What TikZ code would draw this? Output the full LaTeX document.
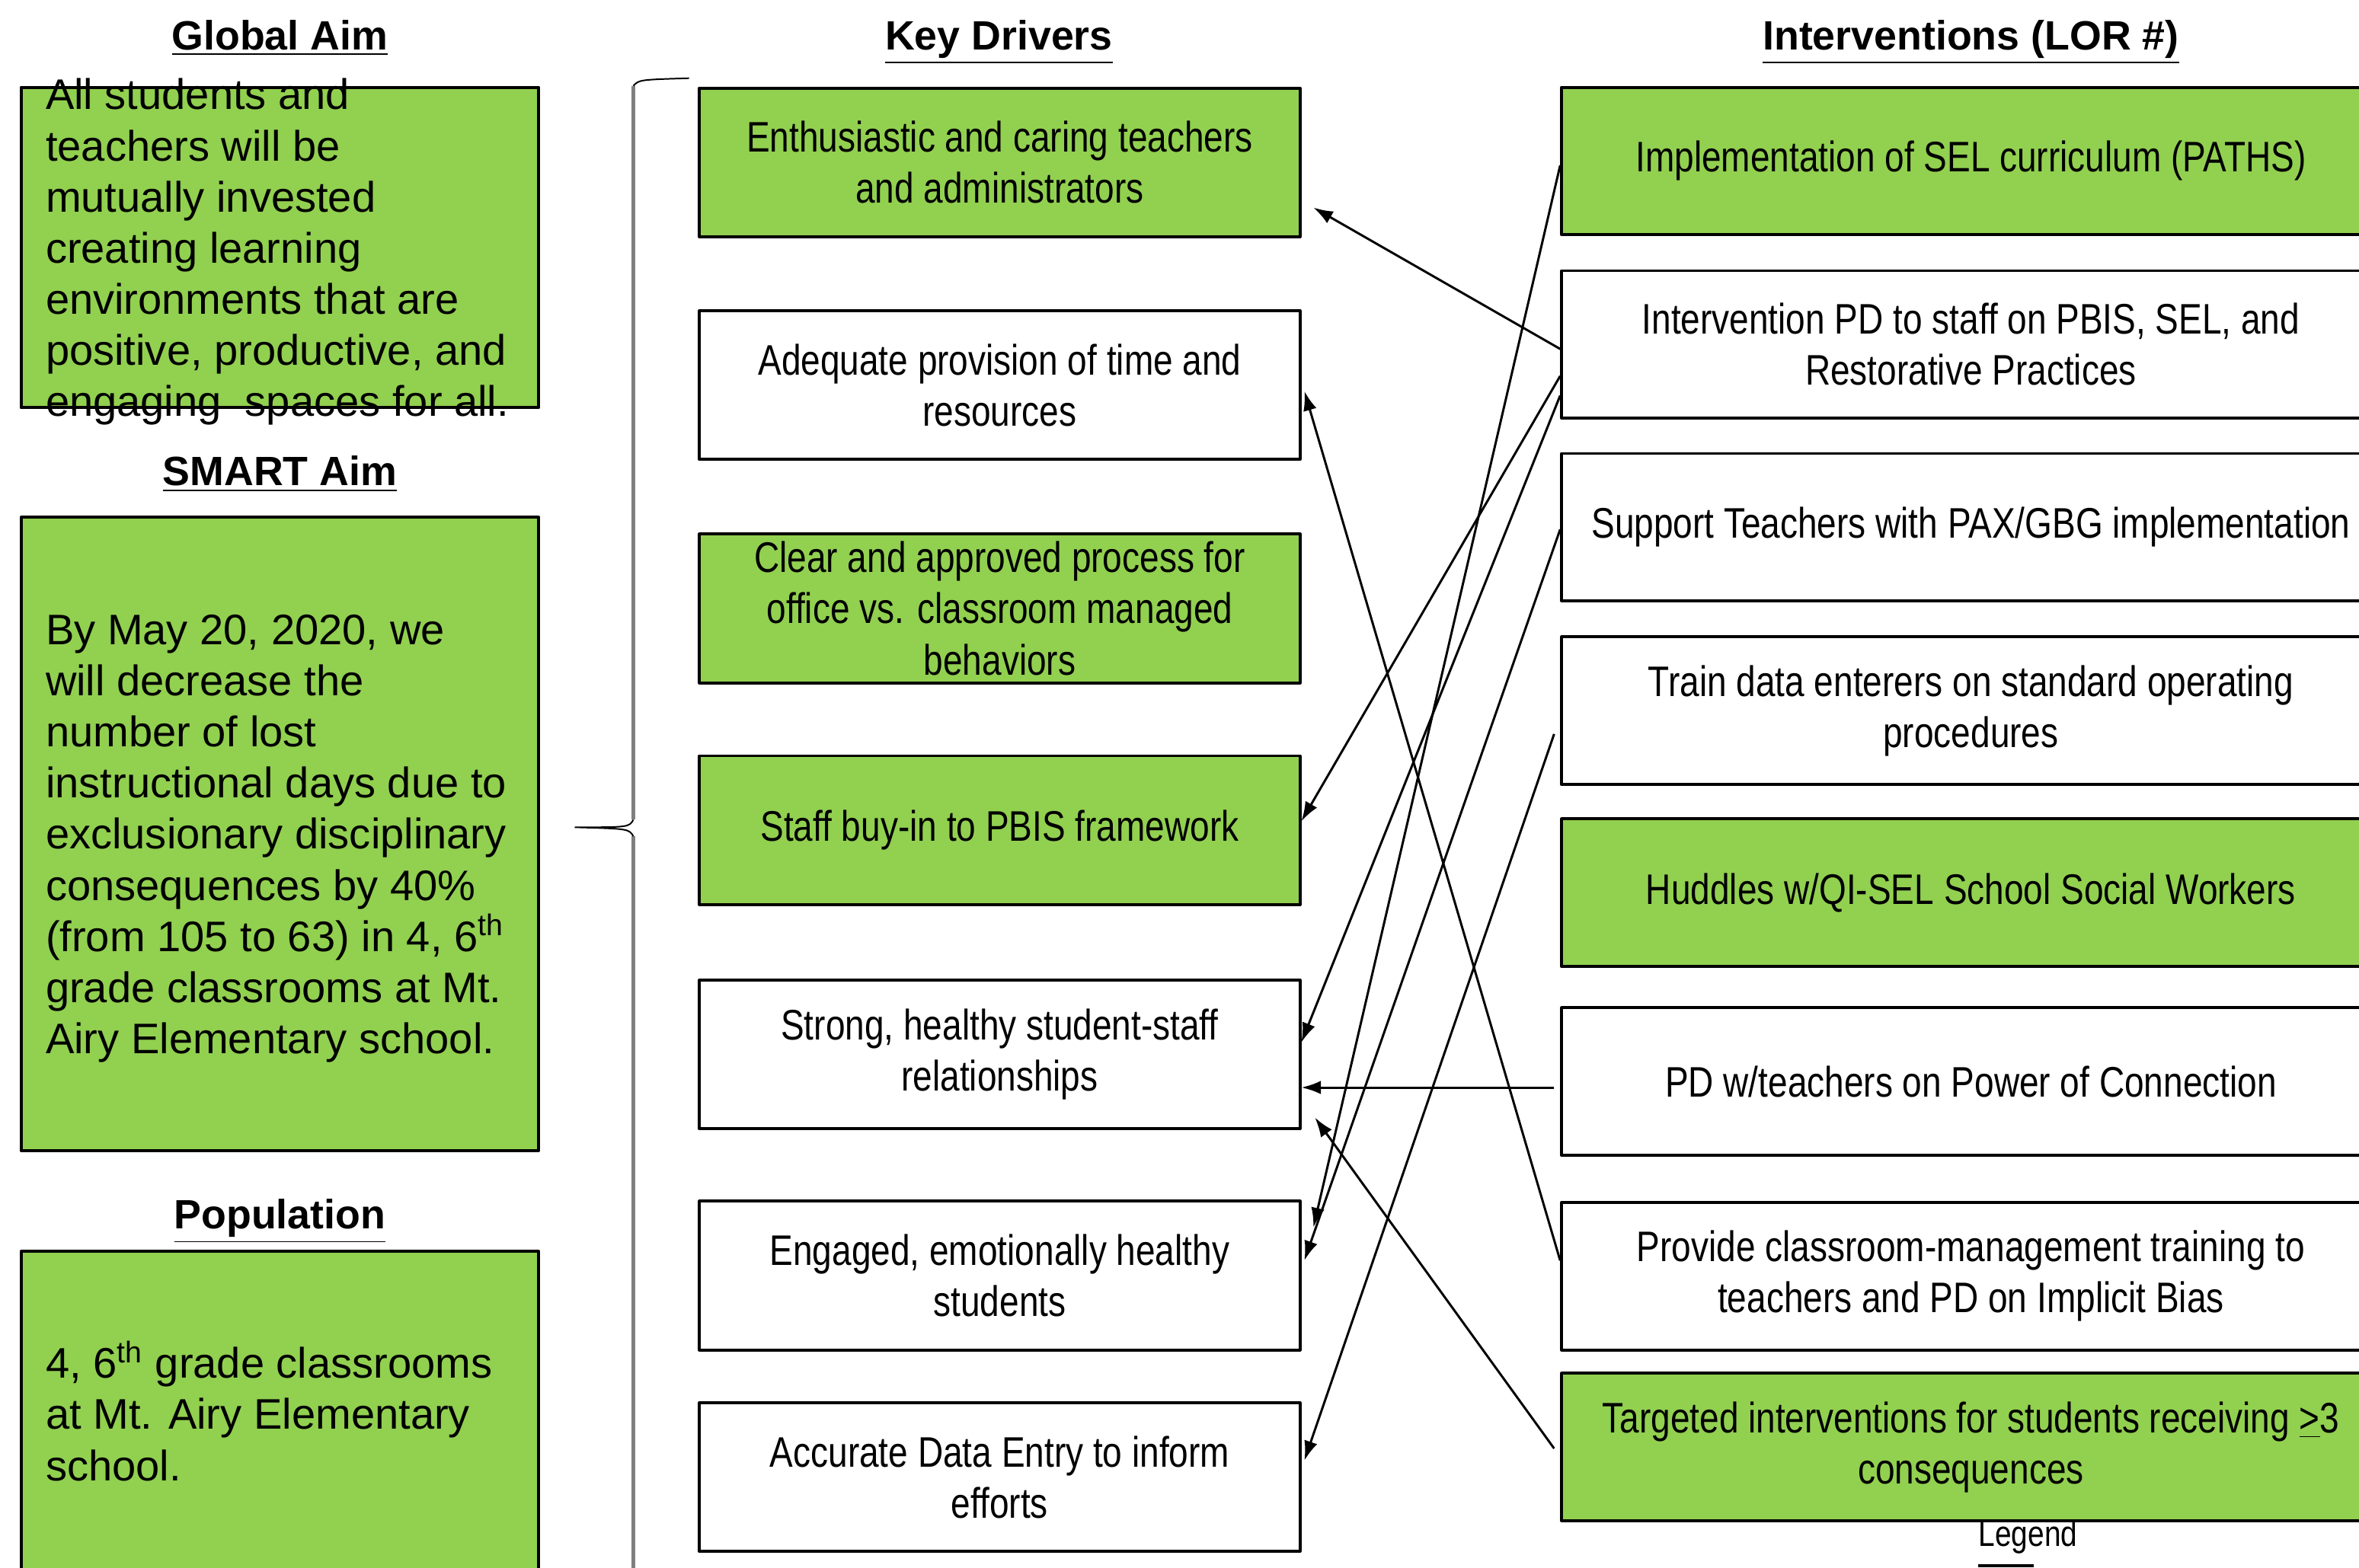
\documentclass[tikz,border=0pt]{standalone}
\usepackage{fontspec}
\setmainfont{Liberation Sans}
\newfontfamily\narrowfont[FakeStretch=0.82]{Liberation Sans}
\usetikzlibrary{arrows.meta}
\definecolor{kdgreen}{HTML}{92D050}
\definecolor{bracegray}{HTML}{808080}
\newcommand{\bodysize}{\fontsize{14.2}{17}\selectfont}

\begin{document}
\begin{tikzpicture}[x=0.5pt, y=-0.5pt, line join=round,
 head/.style={font=\bfseries\fontsize{13.6}{16}\selectfont, anchor=base, inner sep=0pt},
 aimbox/.style={draw, line width=1pt, fill=kdgreen, minimum width=172pt, inner sep=0pt},
 aimtext/.style={anchor=west, align=left, inner sep=0pt, font=\bodysize},
 drv/.style={draw, line width=1pt, minimum width=199.5pt, minimum height=49.5pt, inner sep=0pt, align=center, font=\narrowfont\bodysize},
 itv/.style={draw, line width=1pt, minimum width=272pt, minimum height=49pt, inner sep=0pt, align=center, font=\narrowfont\bodysize},
 link/.style={line width=0.75pt, -{Latex[length=6.5pt,width=4.5pt]}}]
\useasboundingbox (0,0) rectangle (1568,1042);

% headings
\node[head] (hglobal) at (186,33) {\underline{Global Aim}};
\node[head] (hsmart) at (186,323) {\underline{SMART Aim}};
\node[head] (hpop) at (186,817) {\underline{Population}};
\node[head] (hdrv) at (664,33) {\underline{Key Drivers}};
\node[head] (hitv) at (1310,33) {\underline{Interventions (LOR \#)}};

% aims
\node[aimbox, minimum height=106.5pt] (gbox) at (186,164.5) {};
\node[aimtext] (gtext) at ([xshift=8.5pt,yshift=-1.5pt]gbox.west) {All students and\\teachers will be\\mutually invested\\creating learning\\environments that are\\positive, productive, and\\engaging\ \ spaces for all.};
\node[aimbox, minimum height=210.5pt] (sbox) at (186,554.5) {};
\node[aimtext] (stext) at ([xshift=8.5pt,yshift=-1.5pt]sbox.west) {By May 20, 2020, we\\will decrease the\\number of lost\\instructional days due to\\exclusionary disciplinary\\consequences by 40\%\\(from 105 to 63) in 4, 6\textsuperscript{th}\\grade classrooms at Mt.\\Airy Elementary school.};
\node[aimbox, minimum height=107pt] (pbox) at (186,939) {};
\node[aimtext] (ptext) at ([xshift=8.5pt,yshift=0.5pt]pbox.west) {4, 6\textsuperscript{th} grade classrooms\\at Mt. Airy Elementary\\school.};

% brace
\draw[bracegray, line width=1.2pt] (421,57) -- (421,545) (421,556) -- (421,1050);
\draw[line width=0.5pt] (421,57) .. controls (425,53) .. (458,52);
\draw[line width=0.5pt] (421,545) .. controls (418,550) .. (382,550) (421,556) .. controls (418,551) .. (382,550);

% key drivers
\foreach \nm/\yy/\fc/\txt in {
 d1/108/kdgreen/{Enthusiastic and caring teachers\\and administrators},
 d2/256/white/{Adequate provision of time and\\resources},
 d3/404.5/kdgreen/{Clear and approved process for\\office vs. classroom managed\\behaviors},
 d4/552/kdgreen/{Staff buy-in to PBIS framework},
 d5/701/white/{Strong, healthy student-staff\\relationships},
 d6/848/white/{Engaged, emotionally healthy\\students},
 d7/982/white/{Accurate Data Entry to inform\\efforts}}
 \node[drv, fill=\fc] (\nm) at (664.5,\yy) {\txt};

% interventions
\foreach \nm/\yy/\fc/\txt in {
 i1/107/kdgreen/{Implementation of SEL curriculum (PATHS)},
 i2/229/white/{Intervention PD to staff on PBIS, SEL, and\\Restorative Practices},
 i3/350.5/white/{Support Teachers with PAX/GBG implementation},
 i4/472.5/white/{Train data enterers on standard operating\\procedures},
 i5/593.5/kdgreen/{Huddles w/QI-SEL School Social Workers},
 i6/719/white/{PD w/teachers on Power of Connection},
 i7/848.5/white/{Provide classroom-management training to\\teachers and PD on Implicit Bias},
 i8/962/kdgreen/{Targeted interventions for students receiving \underline{>}3\\consequences}}
 \node[itv, fill=\fc] (\nm) at (1310,\yy) {\txt};

\node[font=\narrowfont\fontsize{12}{14}\selectfont, inner sep=0pt] (legend) at (1348,1022) {Legend};
\draw[line width=1.2pt] (1315,1041) -- (1352,1041);

% links
\draw[link] ([yshift=-1.5pt]i2.west) -- ([xshift=4pt,yshift=-15pt]d1.east);
\draw[link] ([yshift=-10.5pt]i2.west) -- ([yshift=3pt]d4.east);
\draw[link] ([yshift=-17pt]i2.west) -- ([yshift=4pt]d5.east);
\draw[link] ([yshift=-1.5pt]i1.west) -- ([xshift=4pt,yshift=16pt]d6.east);
\draw[link] ([yshift=-0.75pt]i3.west) -- ([xshift=1pt,yshift=5pt]d6.east);
\draw[link] ([xshift=-2pt,yshift=-7.75pt]i4.west) -- ([xshift=1pt,yshift=5.5pt]d7.east);
\draw[link] ([xshift=-2pt,yshift=-2pt]i6.west) -- ([yshift=-11pt]d5.east);
\draw[link] ([yshift=5.25pt]i7.west) -- ([xshift=1pt,yshift=-2pt]d2.east);
\draw[link] ([xshift=-2pt,yshift=-0.5pt]i8.west) -- ([xshift=4.5pt,yshift=-21pt]d5.east);
\end{tikzpicture}
\end{document}
